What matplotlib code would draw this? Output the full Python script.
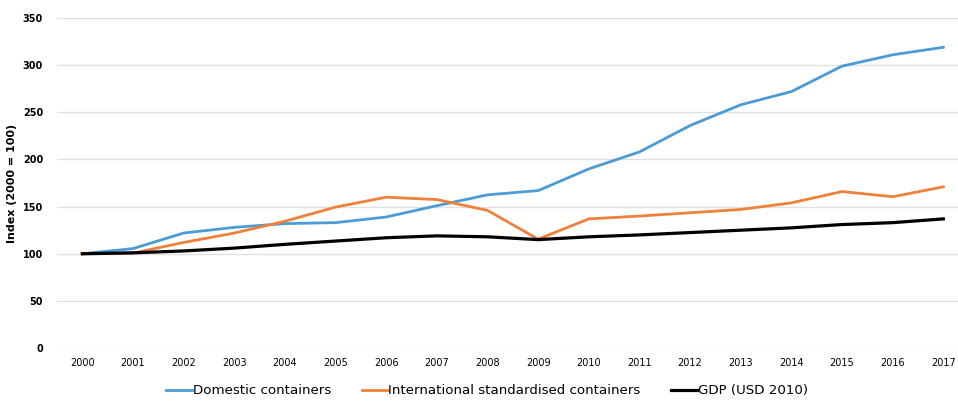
import matplotlib.pyplot as plt

years = list(range(2000, 2018))
domestic = [100, 105.5, 122, 128, 132, 133, 139, 151, 162.5, 167, 190, 208, 236, 258, 272, 299, 311, 319]
international = [100, 100.7, 112, 122, 134.5, 149.5, 160, 157.5, 146, 115.5, 137, 140, 143.5, 147, 154, 166, 160.5, 171]
gdp = [100, 101, 103, 106, 110, 113.5, 117, 119, 118, 115, 118, 120, 122.5, 125, 127.5, 131, 133, 137]

fig = plt.figure(figsize=(9.58, 4.01), dpi=100)
ax = fig.add_axes([0.0595, 0.132, 0.9405, 0.823])

x = list(range(len(years)))
ax.plot(x, domestic, color='#4a9bd6', lw=2.0, label='Domestic containers')
ax.plot(x, international, color='#f0803a', lw=2.0, label='International standardised containers')
ax.plot(x, gdp, color='black', lw=2.3, label='GDP (USD 2010)')

ax.set_xlim(-0.5, 17.29)
ax.set_ylim(0, 350)
ax.set_yticks(range(0, 351, 50))
ax.set_xticks(x)
ax.set_xticklabels([str(y) for y in years], fontsize=7)
for lbl in ax.get_yticklabels():
    lbl.set_fontsize(7)
    lbl.set_fontweight('bold')
ax.tick_params(length=0, pad=10)
ax.tick_params(axis='x', pad=7)
ax.grid(axis='y', color='#e0e0e0', lw=1)
ax.set_axisbelow(True)
for s in ax.spines.values():
    s.set_visible(False)

ax.set_ylabel('Index (2000 = 100)', fontsize=8, fontweight='bold')
ax.yaxis.set_label_coords(-0.044, 0.5)

fig.legend(loc='center', bbox_to_anchor=(487 / 958, 0.025), ncol=3, frameon=False,
           fontsize=9.6, handlelength=1.95, handletextpad=0.05, columnspacing=2.3)

plt.savefig('out.png', dpi=100)
